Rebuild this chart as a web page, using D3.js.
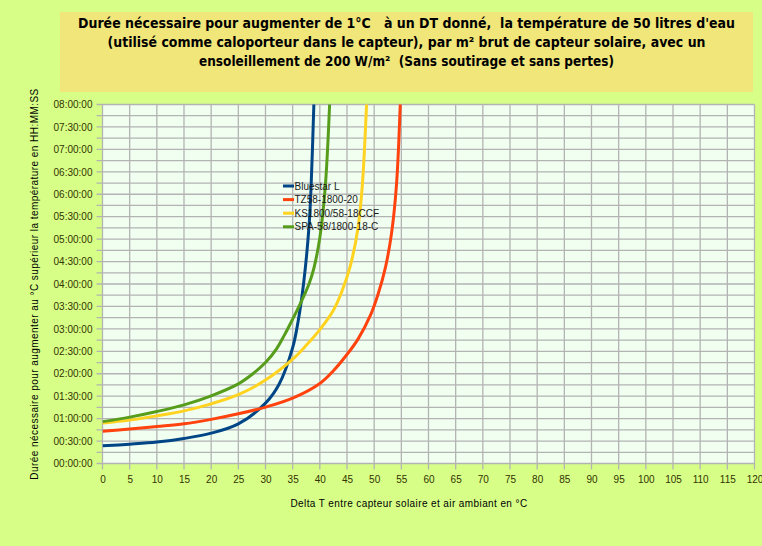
<!DOCTYPE html>
<html>
<head>
<meta charset="utf-8">
<script src="https://cdn.jsdelivr.net/npm/d3@7"></script>
<style>
  body { margin: 0; background: #d7ff87; }
  svg { display: block; }
</style>
</head>
<body>
<script>
// Chart data : Delta T in °C, duration in minutes
const seriesNames = ["Bluestar L", "TZ58-1800-20", "KS1800/58-18CCF", "SPA-58/1800-18-C"];

const bluestarDT  = [0, 5, 10, 15, 20, 25, 30, 32.5, 35, 36, 37, 38, 38.4, 38.9];
const bluestarMin = [23.6, 25.8, 28.6, 33.4, 40.6, 53, 80.7, 106, 155, 190, 240, 316, 372, 480];

const tz58DT  = [0, 5, 10, 15, 20, 25, 30, 35, 40, 42.5, 44.7, 47, 49.3, 50.7, 52.1, 53.2, 54.1, 54.8];
const tz58Min = [43, 46, 49.4, 53, 59, 66.4, 75.4, 87.4, 107, 124, 143, 166, 198, 226, 263, 308, 372, 480];

const ks1800DT  = [0, 5, 10, 15, 20, 25, 30, 35, 37.5, 40, 42.5, 44, 45.6, 47, 47.8, 48.6];
const ks1800Min = [54, 58, 63.7, 70.4, 79.8, 92, 111.5, 139.5, 158, 179, 205, 229, 264, 314, 370, 480];

const spa58DT  = [0, 5, 10, 15, 20, 25, 27.5, 30, 32, 33.5, 35, 36.5, 38, 38.9, 40, 41, 41.8];
const spa58Min = [56, 62, 69.5, 78.4, 90.5, 106.5, 119, 135, 153, 172, 193, 215, 240, 261, 302, 370, 480];

const xTicks = d3.range(0, 121, 5);          // 0 .. 120 every 5 °C
const yTicksMin = d3.range(0, 481, 15);      // grid + ticks every 15 min
const yLabelsMin = d3.range(0, 481, 30);     // labels every 30 min

const titleLines = [
  "Durée nécessaire pour augmenter de 1°C   à un DT donné,  la température de 50 litres d'eau",
  "(utilisé comme caloporteur dans le capteur), par m² brut de capteur solaire, avec un",
  "ensoleillement de 200 W/m²  (Sans soutirage et sans pertes)"
];
const xTitle = "Delta T entre capteur solaire et air ambiant en °C";
const yTitle = "Durée nécessaire pour augmenter au °C supérieur la température en HH:MM:SS";

// Layout / styles
const width = 762, height = 546;
const plot = {left: 102.5, right: 754.5, top: 104.5, bottom: 463.5};
const colors = ["#004586", "#ff420e", "#ffd320", "#579d1c"];
const gridColor = "#b3b3b3";
const labelColor = "#333300";
const font = "'Liberation Sans', Arial, sans-serif";

const series = [
  {dt: bluestarDT, min: bluestarMin},
  {dt: tz58DT, min: tz58Min},
  {dt: ks1800DT, min: ks1800Min},
  {dt: spa58DT, min: spa58Min}
].map((s, i) => ({name: seriesNames[i], color: colors[i],
  values: s.dt.map((d, j) => ({dt: d, min: s.min[j]}))}));

const svg = d3.select("body").append("svg")
  .attr("width", width).attr("height", height);

svg.append("rect").attr("width", width).attr("height", height).attr("fill", "#d7ff87");

// Title box
svg.append("rect")
  .attr("x", 60).attr("y", 12).attr("width", 693).attr("height", 80)
  .attr("fill", "#f0e67a");

const titleWidths = [657, 598, 415];
svg.append("g").selectAll("text").data(titleLines).join("text")
  .attr("x", 406.5).attr("y", (d, i) => 27.5 + i * 19)
  .attr("text-anchor", "middle")
  .style("white-space", "pre")
  .attr("font-family", "'DejaVu Sans Condensed', 'DejaVu Sans', sans-serif")
  .attr("font-weight", "bold").attr("font-size", 14.5)
  .attr("textLength", (d, i) => titleWidths[i])
  .attr("lengthAdjust", "spacingAndGlyphs")
  .attr("fill", "#000")
  .text(d => d);

// Scales
const x = d3.scaleLinear().domain([0, 120]).range([plot.left, plot.right]);
const y = d3.scaleLinear().domain([0, 480]).range([plot.bottom, plot.top]);

const fmtTime = m => {
  const h = Math.floor(m / 60), mm = m % 60;
  return String(h).padStart(2, "0") + ":" + String(mm).padStart(2, "0") + ":00";
};

// Plot background
svg.append("rect")
  .attr("x", plot.left).attr("y", plot.top)
  .attr("width", plot.right - plot.left).attr("height", plot.bottom - plot.top)
  .attr("fill", "#f0fff0");

// Grid
const grid = svg.append("g").attr("stroke", gridColor).attr("stroke-width", 1.3);
grid.selectAll("line.v").data(xTicks).join("line")
  .attr("x1", d => x(d)).attr("x2", d => x(d))
  .attr("y1", plot.top).attr("y2", plot.bottom + 6);
grid.selectAll("line.h").data(yTicksMin).join("line")
  .attr("x1", plot.left - 6).attr("x2", plot.right)
  .attr("y1", d => y(d)).attr("y2", d => y(d));

// Axes labels
const xAxis = d3.axisBottom(x).tickValues(xTicks).tickSize(0).tickPadding(0);
const gx = svg.append("g").attr("transform", `translate(0,${plot.bottom})`).call(xAxis);
gx.select(".domain").remove();
gx.selectAll("text").attr("y", 12).attr("dy", "0.71em")
  .attr("font-family", font).attr("font-size", 10).attr("fill", labelColor);

const yAxis = d3.axisLeft(y).tickValues(yLabelsMin).tickFormat(fmtTime).tickSize(0).tickPadding(0);
const gy = svg.append("g").attr("transform", `translate(${plot.left},0)`).call(yAxis);
gy.select(".domain").remove();
gy.selectAll("text").attr("x", -10)
  .attr("font-family", font).attr("font-size", 10).attr("fill", labelColor);

// Axis titles
svg.append("text")
  .attr("x", 409).attr("y", 506.5).attr("text-anchor", "middle")
  .attr("font-family", font).attr("font-size", 10).attr("letter-spacing", 0.4)
  .attr("fill", "#000")
  .text(xTitle);

svg.append("text")
  .attr("transform", "translate(37.5,284) rotate(-90)").attr("text-anchor", "middle")
  .attr("font-family", font).attr("font-size", 10).attr("letter-spacing", 0.45)
  .attr("fill", "#000")
  .text(yTitle);

// Lines
svg.append("clipPath").attr("id", "clip").append("rect")
  .attr("x", plot.left).attr("y", plot.top - 1)
  .attr("width", plot.right - plot.left).attr("height", plot.bottom - plot.top + 1);

const line = d3.line()
  .x(d => x(d.dt)).y(d => y(d.min))
  .curve(d3.curveCatmullRom.alpha(0.5));

svg.append("g").attr("clip-path", "url(#clip)")
  .selectAll("path").data(series).join("path")
  .attr("fill", "none")
  .attr("stroke", d => d.color)
  .attr("stroke-width", 3)
  .attr("stroke-linejoin", "round")
  .attr("d", d => line(d.values));

// Legend
const legend = svg.append("g").attr("transform", "translate(283,186)");
const items = legend.selectAll("g").data(series).join("g")
  .attr("transform", (d, i) => `translate(0,${i * 13.6})`);
items.append("line").attr("x1", 0).attr("x2", 11).attr("stroke", d => d.color).attr("stroke-width", 3);
items.append("text").attr("x", 11.5).attr("dy", "0.35em")
  .attr("font-family", font).attr("font-size", 10).attr("fill", "#1a1a1a")
  .text(d => d.name);
</script>
</body>
</html>
